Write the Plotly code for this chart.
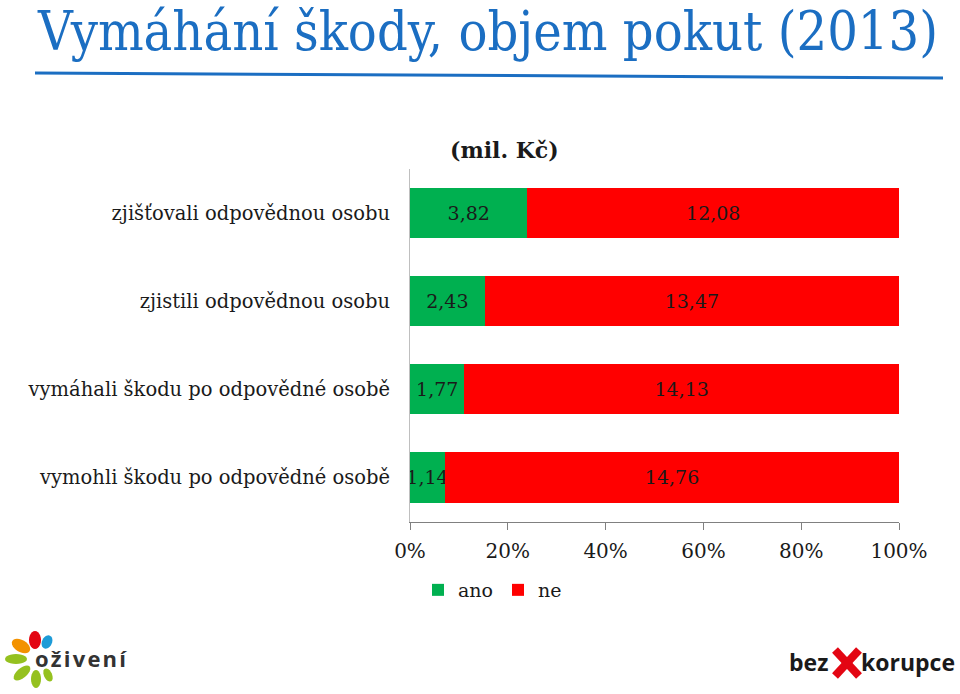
import plotly.graph_objects as go
import math

categories = ["zjišťovali odpovědnou osobu", "zjistili odpovědnou osobu",
              "vymáhali škodu po odpovědné osobě", "vymohli škodu po odpovědné osobě"]
ano = [3.82, 2.43, 1.77, 1.14]
ne = [12.08, 13.47, 14.13, 14.76]
x_ticks = [0, 20, 40, 60, 80, 100]
x_ticklabels = ["0%", "20%", "40%", "60%", "80%", "100%"]

W, H = 960, 694
def px(x): return x / W
def py(y): return 1 - y / H

SERIF = "DejaVu Serif"
fmt = lambda v: f"{v:.2f}".replace(".", ",")

fig = go.Figure()
fig.add_trace(go.Bar(y=categories, x=ano, name="ano", orientation="h",
                     marker=dict(color="#00B050", line=dict(width=0)),
                     text=[fmt(v) for v in ano], textposition="inside", textangle=0,
                     insidetextanchor="middle", constraintext="none",
                     textfont=dict(family=SERIF, size=19, color="#1a1a1a")))
fig.add_trace(go.Bar(y=categories, x=ne, name="ne", orientation="h",
                     marker=dict(color="#FF0000", line=dict(width=0)),
                     text=[fmt(v) for v in ne], textposition="inside", textangle=0,
                     insidetextanchor="middle", constraintext="none",
                     textfont=dict(family=SERIF, size=19, color="#1a1a1a")))

fig.update_layout(
    width=W, height=H, barmode="stack", barnorm="percent", bargap=0.43,
    margin=dict(l=0, r=0, t=0, b=0), paper_bgcolor="white", plot_bgcolor="white",
    font=dict(family=SERIF, color="#1a1a1a"),
    showlegend=True,
    legend=dict(orientation="h", x=px(418), y=py(590), xanchor="left", yanchor="middle",
                font=dict(family=SERIF, size=19, color="#1a1a1a"),
                itemwidth=30, traceorder="normal", bgcolor="rgba(0,0,0,0)"),
    xaxis=dict(domain=[px(410), px(899)], range=[0, 100], tickvals=x_ticks,
               ticktext=x_ticklabels, showgrid=False, zeroline=False,
               showline=True, linecolor="#808080", linewidth=1,
               ticks="outside", ticklen=7, tickcolor="#808080",
               tickfont=dict(family=SERIF, size=20, color="#1a1a1a"),
               ticklabelstandoff=4, automargin=False, fixedrange=True),
    yaxis=dict(domain=[py(521.5), py(169)], autorange="reversed",
               categoryorder="array", categoryarray=categories,
               showgrid=False, zeroline=False, showline=True, linecolor="#BFBFBF",
               linewidth=1, ticks="",
               tickfont=dict(family=SERIF, size=19.5, color="#1a1a1a"),
               ticklabelstandoff=15, automargin=False, fixedrange=True),
)

# Title and rule
fig.add_annotation(text="Vymáhání škody, objem pokut (2013)", x=px(35), y=py(31),
                   xref="paper", yref="paper", xanchor="left", yanchor="middle",
                   showarrow=False,
                   font=dict(family="DejaVu Serif Condensed, DejaVu Serif", size=53.6, color="#1B6EC2"))
fig.add_shape(type="line", xref="paper", yref="paper", x0=px(35), y0=py(73), x1=px(943), y1=py(78),
              line=dict(color="#1B6EC2", width=3))

fig.add_annotation(text="<b>(mil. Kč)</b>", x=px(505), y=py(150), xref="paper", yref="paper",
                   xanchor="center", yanchor="middle", showarrow=False,
                   font=dict(family=SERIF, size=22, color="#1a1a1a"))

# oživení logo
def ellipse_path(cx, cy, rx, ry, ang_deg, n=24):
    a = math.radians(ang_deg)
    pts = []
    for i in range(n):
        t = 2 * math.pi * i / n
        ex, ey = rx * math.cos(t), ry * math.sin(t)
        X = cx + ex * math.cos(a) - ey * math.sin(a)
        Y = cy + ex * math.sin(a) + ey * math.cos(a)
        pts.append((px(X), py(Y)))
    return "M " + " L ".join(f"{x:.5f},{y:.5f}" for x, y in pts) + " Z"

petals = [
    (21, 646, 10, 6, 30, "#F39200"),
    (35, 640, 6, 9, 0, "#E30613"),
    (47, 642, 5, 7, 25, "#1D9BD7"),
    (16, 659, 11, 5, 0, "#95C11F"),
    (22, 673, 10, 5, -40, "#95C11F"),
    (36, 679, 5, 9, 0, "#95C11F"),
    (48, 675, 4, 7, -25, "#95C11F"),
]
for cx, cy, rx, ry, ang, col in petals:
    fig.add_shape(type="path", xref="paper", yref="paper",
                  path=ellipse_path(cx, cy, rx, ry, ang), fillcolor=col,
                  line=dict(width=0), layer="above")
fig.add_annotation(text="<b>o\u200až\u200ai\u200av\u200ae\u200an\u200aí</b>", x=px(33), y=py(658),
                   xref="paper", yref="paper", xanchor="left", yanchor="middle", showarrow=False,
                   bgcolor="rgba(0,0,0,0)",
                   font=dict(family="Open Sans", size=22, color="#333333"))

# bez korupce logo
fig.add_annotation(text="<b>bez</b>", x=px(787), y=py(662), xref="paper", yref="paper",
                   xanchor="left", yanchor="middle", showarrow=False,
                   font=dict(family="Open Sans", size=23, color="#1a1a1a"))
fig.add_annotation(text="<b>korupce</b>", x=px(957), y=py(662), xref="paper", yref="paper",
                   xanchor="right", yanchor="middle", showarrow=False,
                   font=dict(family="Open Sans", size=23, color="#1a1a1a"))
for (x0, y0, x1, y1) in [(835, 650, 859, 676), (835, 676, 859, 650)]:
    fig.add_shape(type="line", xref="paper", yref="paper", x0=px(x0), y0=py(y0),
                  x1=px(x1), y1=py(y1), line=dict(color="#E30613", width=8))

fig.write_html("out.html")
